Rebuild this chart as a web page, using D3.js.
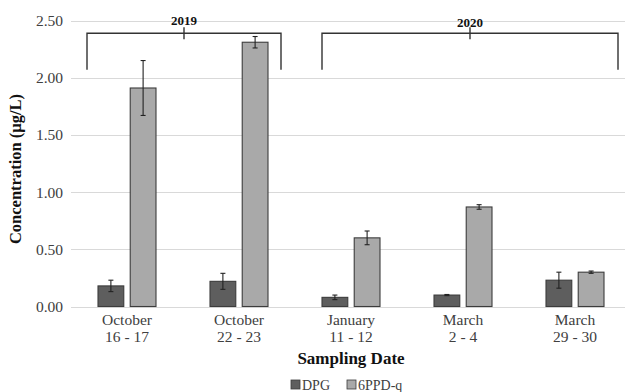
<!DOCTYPE html>
<html>
<head>
<meta charset="utf-8">
<script src="https://cdn.jsdelivr.net/npm/d3@7"></script>
<style>
  html, body { margin: 0; padding: 0; background: #fff; }
  svg { display: block; font-family: "Liberation Serif", "Times New Roman", serif; }
</style>
</head>
<body>
<svg id="chart" width="625" height="392"></svg>
<script>
// Sampling dates (two-line labels)
const categories = ["October|16 - 17", "October|22 - 23", "January|11 - 12", "March|2 - 4", "March|29 - 30"];
const seriesNames = ["DPG", "6PPD-q"];
// Mean concentrations (µg/L) and standard deviations
const dpgValues = [0.18, 0.22, 0.08, 0.10, 0.23];
const dpgErrors = [0.05, 0.07, 0.02, 0.005, 0.07];
const ppdValues = [1.91, 2.31, 0.60, 0.87, 0.30];
const ppdErrors = [0.24, 0.05, 0.06, 0.02, 0.01];
const yTicks = [0, 0.5, 1.0, 1.5, 2.0, 2.5];
// Year groupings above the bars: first and last category index
const yearGroups = [
  { label: "2019", from: 0, to: 1, padL: 16, padR: 14 },
  { label: "2020", from: 2, to: 4, padL: 27, padR: 13 }
];

const colors = { "DPG": "#5e5e5e", "6PPD-q": "#a9a9a9" };
const stroke = "#3c3c3c";

const svg = d3.select("#chart");

const x = d3.scaleBand().domain(categories).range([71, 631]).padding(0);
const y = d3.scaleLinear().domain([0, 2.5]).range([306.5, 20.5]);
const groupW = 58;
const xInner = d3.scaleBand().domain(seriesNames)
  .range([(x.bandwidth() - groupW) / 2, (x.bandwidth() + groupW) / 2])
  .paddingInner(0.2).paddingOuter(0);

// Gridlines
svg.append("g").selectAll("line").data(yTicks).join("line")
  .attr("x1", x.range()[0]).attr("x2", x.range()[1])
  .attr("y1", d => Math.round(y(d)) + 0.5).attr("y2", d => Math.round(y(d)) + 0.5)
  .attr("stroke", "#d9d9d9").attr("stroke-width", 1.2);

// Y axis tick labels
const yAxis = d3.axisLeft(y).tickValues(yTicks).tickFormat(d3.format(".2f")).tickSize(0).tickPadding(0);
const ya = svg.append("g").attr("transform", "translate(63,0)").call(yAxis);
ya.select(".domain").remove();
ya.selectAll("text").attr("font-size", "15.5px").attr("fill", "#404040")
  .attr("font-family", "Liberation Serif, serif");

// Bars
const rows = categories.map((c, i) => [
  { cat: c, name: "DPG", v: dpgValues[i], e: dpgErrors[i] },
  { cat: c, name: "6PPD-q", v: ppdValues[i], e: ppdErrors[i] }
]).flat();

const bars = svg.append("g");
bars.selectAll("rect").data(rows).join("rect")
  .attr("x", d => x(d.cat) + xInner(d.name))
  .attr("y", d => y(d.v))
  .attr("width", xInner.bandwidth())
  .attr("height", d => y(0) - y(d.v))
  .attr("fill", d => colors[d.name])
  .attr("stroke", stroke).attr("stroke-width", 1.1);

// Error bars
const eb = svg.append("g").attr("stroke", "#222").attr("stroke-width", 1.1);
rows.forEach(d => {
  const cx = x(d.cat) + xInner(d.name) + xInner.bandwidth() / 2;
  eb.append("line").attr("x1", cx).attr("x2", cx).attr("y1", y(d.v + d.e)).attr("y2", y(d.v - d.e));
  eb.append("line").attr("x1", cx - 2.5).attr("x2", cx + 2.5).attr("y1", y(d.v + d.e)).attr("y2", y(d.v + d.e));
  eb.append("line").attr("x1", cx - 2.5).attr("x2", cx + 2.5).attr("y1", y(d.v - d.e)).attr("y2", y(d.v - d.e));
});

// X axis category labels
const xl = svg.append("g").attr("font-size", "15.5px").attr("fill", "#404040").attr("text-anchor", "middle");
categories.forEach(c => {
  const [l1, l2] = c.split("|");
  const cx = x(c) + x.bandwidth() / 2;
  const t = xl.append("text").attr("x", cx).attr("y", 325);
  t.append("tspan").attr("x", cx).attr("dy", 0).text(l1);
  t.append("tspan").attr("x", cx).attr("dy", 17).text(l2);
});

// Year brackets
const br = svg.append("g").attr("stroke", "#333").attr("stroke-width", 1.4).attr("fill", "none");
const bTop = y(2.388), bBot = y(2.07);
yearGroups.forEach(g => {
  const x0 = x(categories[g.from]) + g.padL;
  const x1 = x(categories[g.to]) + x.bandwidth() - g.padR;
  const xm = (x0 + x1) / 2;
  br.append("path").attr("d", `M${x0},${bBot}V${bTop}H${x1}V${bBot}`);
  br.append("line").attr("x1", xm).attr("x2", xm).attr("y1", bTop - 6).attr("y2", bTop + 6);
  svg.append("text").attr("x", xm).attr("y", g.label === "2019" ? 25 : 26.5)
    .attr("text-anchor", "middle").attr("font-weight", "bold").attr("font-size", "13px")
    .attr("fill", "#111").text(g.label);
});

// Axis titles
svg.append("text").attr("transform", "translate(21,169) rotate(-90)")
  .attr("text-anchor", "middle").attr("font-weight", "bold").attr("font-size", "16.5px")
  .attr("fill", "#111").text("Concentration (µg/L)");
svg.append("text").attr("x", 351).attr("y", 364)
  .attr("text-anchor", "middle").attr("font-weight", "bold").attr("font-size", "17px")
  .attr("fill", "#111").text("Sampling Date");

// Legend
const legendX = [291, 347];
const lg = svg.append("g");
seriesNames.forEach((n, i) => {
  lg.append("rect").attr("x", legendX[i]).attr("y", 380).attr("width", 9).attr("height", 9)
    .attr("fill", colors[n]).attr("stroke", stroke).attr("stroke-width", 0.8);
  lg.append("text").attr("x", legendX[i] + 11).attr("y", 389.5).attr("font-size", "14px")
    .attr("fill", "#404040").text(n);
});
</script>
</body>
</html>
